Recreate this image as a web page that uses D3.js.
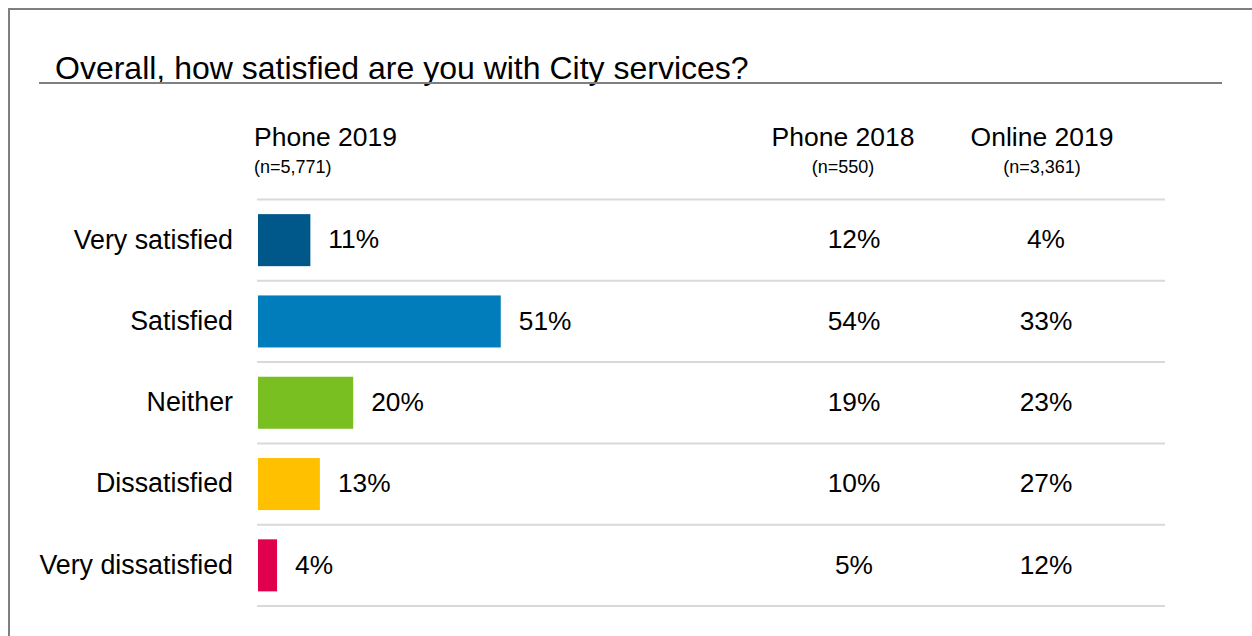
<!DOCTYPE html>
<html>
<head>
<meta charset="utf-8">
<script src="https://cdn.jsdelivr.net/npm/d3@7"></script>
<style>
  html, body { margin: 0; padding: 0; background: #fff; }
  svg { display: block; font-family: "Liberation Sans", Arial, sans-serif; }
</style>
</head>
<body>
<svg id="chart" width="1252" height="636"></svg>
<script>
const title = "Overall, how satisfied are you with City services?";
const categories = ["Very satisfied", "Satisfied", "Neither", "Dissatisfied", "Very dissatisfied"];
const phone2019 = [11, 51, 20, 13, 4];
const phone2018 = [12, 54, 19, 10, 5];
const online2019 = [4, 33, 23, 27, 12];
const columnHeaders = ["Phone 2019", "Phone 2018", "Online 2019"];
const columnSamples = ["(n=5,771)", "(n=550)", "(n=3,361)"];
const barColors = ["#00578a", "#007dba", "#7abf22", "#ffc000", "#e0004d"];

const svg = d3.select("#chart");

// Frame
svg.append("line").attr("x1", 9).attr("x2", 9).attr("y1", 8).attr("y2", 636)
  .attr("stroke", "#7f7f7f").attr("stroke-width", 2);
svg.append("line").attr("x1", 8).attr("x2", 1252).attr("y1", 9).attr("y2", 9)
  .attr("stroke", "#7f7f7f").attr("stroke-width", 2);

// Title
svg.append("text").attr("x", 55).attr("y", 79)
  .attr("font-size", 32).attr("fill", "#000").text(title);
svg.append("line").attr("x1", 39).attr("x2", 1222).attr("y1", 83).attr("y2", 83)
  .attr("stroke", "#7f7f7f").attr("stroke-width", 2);

// Scales
const x = d3.scaleLinear().domain([0, 100]).range([258, 734]);
const y = d3.scaleBand().domain(categories).range([199.5, 606])
  .paddingInner(0.36).paddingOuter(0.18);
const step = y.step();
const top0 = 199.5;

const colX = [254, 843, 1042];
const valX = [null, 854, 1046];

// Column headers
columnHeaders.forEach((h, i) => {
  svg.append("text").attr("x", colX[i]).attr("y", 146)
    .attr("font-size", 26.5).attr("text-anchor", i === 0 ? "start" : "middle")
    .attr("fill", "#000").text(h);
  svg.append("text").attr("x", colX[i]).attr("y", 173)
    .attr("font-size", 18).attr("text-anchor", i === 0 ? "start" : "middle")
    .attr("fill", "#000").text(columnSamples[i]);
});

// Gridlines
d3.range(categories.length + 1).forEach(i => {
  const yy = top0 + i * step;
  svg.append("line").attr("x1", 257).attr("x2", 1165).attr("y1", yy).attr("y2", yy)
    .attr("stroke", "#d9d9d9").attr("stroke-width", 2);
});

// Category labels
svg.selectAll(".cat").data(categories).enter().append("text")
  .attr("x", 233).attr("y", d => y(d) + y.bandwidth() / 2 - 1)
  .attr("dy", "0.35em").attr("text-anchor", "end").attr("font-size", 26.8)
  .attr("fill", "#000").text(d => d);

// Bars
svg.selectAll(".bar").data(phone2019).enter().append("rect")
  .attr("x", x(0)).attr("y", (d, i) => y(categories[i]))
  .attr("width", d => x(d) - x(0)).attr("height", y.bandwidth())
  .attr("fill", (d, i) => barColors[i]);

// Bar value labels
svg.selectAll(".bv").data(phone2019).enter().append("text")
  .attr("x", d => x(d) + 18).attr("y", (d, i) => y(categories[i]) + y.bandwidth() / 2 - 1)
  .attr("dy", "0.35em").attr("font-size", 26.3).attr("fill", "#000")
  .text(d => d + "%");

// Other columns
[phone2018, online2019].forEach((arr, k) => {
  svg.selectAll(".c" + k).data(arr).enter().append("text")
    .attr("x", valX[k + 1]).attr("y", (d, i) => y(categories[i]) + y.bandwidth() / 2 - 1)
    .attr("dy", "0.35em").attr("text-anchor", "middle").attr("font-size", 26.3)
    .attr("fill", "#000").text(d => d + "%");
});
</script>
</body>
</html>
